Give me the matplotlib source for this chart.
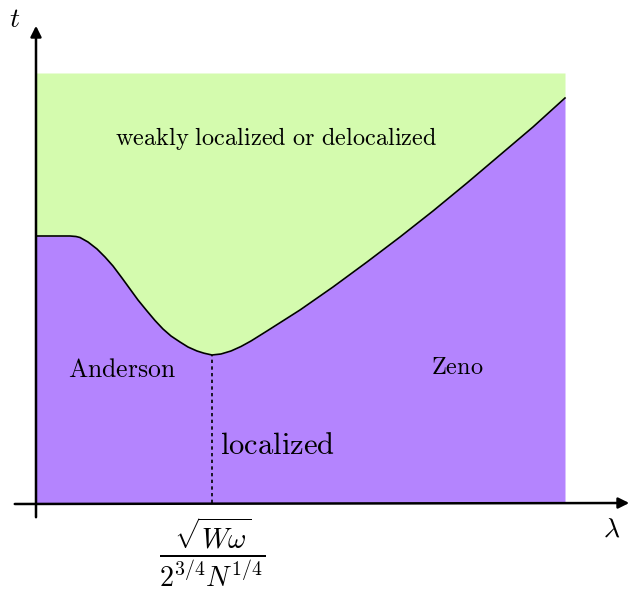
import matplotlib.pyplot as plt
import numpy as np

plt.rcParams['mathtext.fontset'] = 'cm'

# boundary curve between the two regions (arbitrary units)
lam = [0, 34, 40, 44, 52, 61, 69, 77, 86, 94, 102, 111, 119, 127, 135, 144, 152, 161, 168, 176,
       185, 195, 205, 215, 231, 264, 297, 331, 364, 397, 431, 464, 497, 529]
t_c = [267, 267, 266.5, 265.5, 261, 254, 246, 237, 225, 214, 203, 192, 182.5, 174, 167, 161, 156, 152, 149.8, 148,
       149, 152, 156.5, 162, 172, 193, 216, 241, 266, 292, 320, 348, 376, 405]
lam_max = 529
t_max = 430
lam_star = 176  # position of the minimum

green = '#d4fbae'
purple = '#b484fe'

fig = plt.figure(figsize=(6.38, 5.89), dpi=100)
ax = fig.add_axes([0, 0, 1, 1])
ax.set_xlim(-36, 602)
ax.set_ylim(-86, 503)
ax.axis('off')

lam = np.array(lam)
t_c = np.array(t_c)
ax.fill_between(lam, t_c, t_max, color=green, lw=0)
ax.fill_between(lam, 0, t_c, color=purple, lw=0)
ax.plot(lam, t_c, color='black', lw=1.2, solid_joinstyle='round')

# dotted line from the minimum down to the axis
ax.plot([lam_star, lam_star], [0, min(t_c)], color='black', lw=1.2, ls=(0, (2, 2)))

# axes with arrows
ax.annotate('', xy=(0, 480), xytext=(0, -17),
            arrowprops=dict(arrowstyle='-|>', color='black', lw=1.8, mutation_scale=16))
ax.annotate('', xy=(596, 0), xytext=(-24, -1),
            arrowprops=dict(arrowstyle='-|>', color='black', lw=1.8, mutation_scale=16))

ax.text(-21, 484, r'$t$', fontsize=20, ha='center', va='center')
ax.text(576, -26, r'$\lambda$', fontsize=20, ha='center', va='center')

ax.text(240, 365, r'$\mathrm{weakly\ localized\ or\ delocalized}$', fontsize=17.5,
        ha='center', va='center')
ax.text(86, 133, r'$\mathrm{Anderson}$', fontsize=18.5, ha='center', va='center')
ax.text(421, 136, r'$\mathrm{Zeno}$', fontsize=17.5, ha='center', va='center')
ax.text(184, 57, r'$\mathrm{localized}$', fontsize=22, ha='left', va='center')

ax.text(lam_star, -49, r'$\frac{\sqrt{W\omega}}{2^{3/4}N^{1/4}}$', fontsize=29,
        ha='center', va='center')

fig.savefig('out.png', dpi=100)
